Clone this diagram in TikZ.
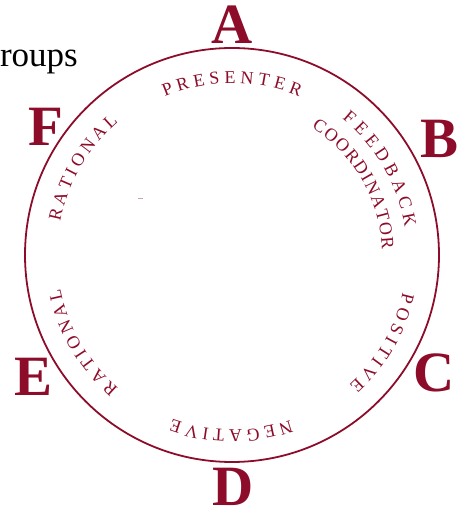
\documentclass[tikz,border=0pt]{standalone}
\usepackage{fontspec}
\setmainfont{Liberation Serif}
\usetikzlibrary{decorations.text}
\definecolor{ringred}{RGB}{140,12,42}
\newcommand{\ringfont}{\color{ringred}\fontsize{18}{18}\selectfont}

\begin{document}
\begin{tikzpicture}[x=1pt,y=1pt,
  corner/.style={text=ringred,font=\fontsize{57}{57}\selectfont\bfseries,inner sep=0pt},
  ringtext/.style={decorate,decoration={text along path,text align=fit to path,text={|\ringfont|#1}}}]
  \useasboundingbox (0,0) rectangle (458,512);

  % Heading, cut off at the left
  \node[anchor=base east,font=\fontsize{35}{35}\selectfont,inner sep=0pt] (grp) at (78,445) {roups};

  % Ring
  \node[circle,draw=ringred,line width=1.8pt,minimum size=414pt,inner sep=0pt] (ring) at (232,257) {};
  \draw[ringred!40,line width=0.6pt] (138,314) -- (143,314);

  % Letters round the ring
  \node[corner] (a) at (232,487) {A};
  \node[corner] (b) at (440,373) {B};
  \node[corner] (c) at (434,139) {C};
  \node[corner] (d) at (233,25) {D};
  \node[corner] (e) at (34,135) {E};
  \node[corner] (f) at (46,385) {F};

  % Roles along the inside of the ring
  \path[ringtext=PRESENTER] (ring.center) ++(113:172pt) arc[start angle=113,end angle=67,radius=172pt];
  \path[ringtext=FEEDBACK] (ring.center) ++(51:175pt) arc[start angle=51,end angle=9,radius=175pt];
  \path[ringtext=COORDINATOR] (ring.center) ++(58:150pt) arc[start angle=58,end angle=2,radius=150pt];
  \path[ringtext=POSITIVE] (ring.center) ++(-12.5:175pt) arc[start angle=-12.5,end angle=-48,radius=175pt];
  \path[ringtext=NEGATIVE] (ring.center) ++(-70.5:175pt) arc[start angle=-70.5,end angle=-110,radius=175pt];
  \path[ringtext=RATIONAL] (ring.center) ++(229.5:175pt) arc[start angle=229.5,end angle=191,radius=175pt];
  \path[ringtext=RATIONAL] (ring.center) ++(169:175pt) arc[start angle=169,end angle=130.5,radius=175pt];
\end{tikzpicture}
\end{document}
